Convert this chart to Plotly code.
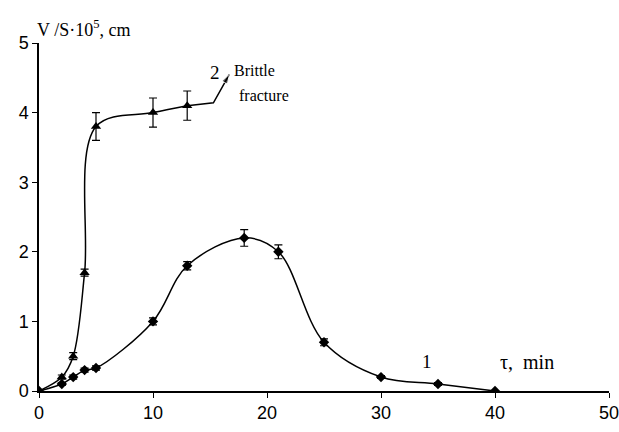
import plotly.graph_objects as go

# Curve 1
t1 = [0, 2, 3, 4, 5, 10, 13, 18, 21, 25, 30, 35, 40]
v1 = [0, 0.1, 0.2, 0.3, 0.33, 1.0, 1.8, 2.2, 2.0, 0.7, 0.2, 0.1, 0]
e1 = [0, 0.02, 0.03, 0.03, 0.03, 0.05, 0.06, 0.12, 0.1, 0.05, 0.02, 0.02, 0]

# Curve 2
t2 = [0, 2, 3, 4, 5, 10, 13]
v2 = [0, 0.2, 0.5, 1.7, 3.8, 4.0, 4.1]
e2 = [0, 0.03, 0.05, 0.05, 0.2, 0.21, 0.21]

# Extension of curve 2 and arrow to "Brittle fracture"
ext_t = [13, 15.3, 16.7]
ext_v = [4.1, 4.14, 4.55]

x_ticks = [0, 10, 20, 30, 40, 50]
y_ticks = [0, 1, 2, 3, 4, 5]

fig = go.Figure()

fig.add_trace(go.Scatter(
    x=t1, y=v1, mode="lines+markers",
    line=dict(color="black", width=1.5, shape="spline", smoothing=1.0),
    marker=dict(symbol="diamond", size=8, color="black"),
    error_y=dict(type="data", array=e1, color="black", thickness=1.2, width=4),
    showlegend=False,
))
fig.add_trace(go.Scatter(
    x=t2, y=v2, mode="lines+markers",
    line=dict(color="black", width=1.5, shape="spline", smoothing=1.0),
    marker=dict(symbol="triangle-up", size=9, color="black"),
    error_y=dict(type="data", array=e2, color="black", thickness=1.2, width=4),
    showlegend=False,
))
fig.add_trace(go.Scatter(
    x=ext_t, y=ext_v, mode="lines+markers",
    line=dict(color="black", width=1.5),
    marker=dict(symbol="arrow", size=[0, 0, 10], angleref="previous", color="black",
                standoff=0),
    showlegend=False,
))

serif = "Liberation Serif, Times New Roman, serif"
fig.add_annotation(x=15.4, y=4.58, xref="x", yref="y", text="2", showarrow=False,
                   font=dict(family=serif, size=19, color="black"))
fig.add_annotation(x=16.9, y=4.61, xref="x", yref="y", xanchor="left", yanchor="middle",
                   text="Brittle", showarrow=False,
                   font=dict(family=serif, size=16, color="black"))
fig.add_annotation(x=17.4, y=4.25, xref="x", yref="y", xanchor="left", yanchor="middle",
                   text="fracture", showarrow=False,
                   font=dict(family=serif, size=16, color="black"))
fig.add_annotation(x=34.0, y=0.42, xref="x", yref="y", text="1", showarrow=False,
                   font=dict(family=serif, size=19, color="black"))
fig.add_annotation(x=40.3, y=0.42, xref="x", yref="y", xanchor="left", text="τ,  min",
                   showarrow=False, font=dict(family=serif, size=20, color="black"))
fig.add_annotation(x=-0.007, y=1.043, xref="paper", yref="paper", xanchor="left", yanchor="middle",
                   text="V /S·10<sup>5</sup>, cm", showarrow=False,
                   font=dict(family=serif, size=18, color="black"))

fig.update_layout(
    width=619, height=432,
    margin=dict(l=39, r=10, t=43, b=41),
    paper_bgcolor="white", plot_bgcolor="white",
    font=dict(family="Liberation Sans, Arial, sans-serif", size=18, color="black"),
)
fig.update_xaxes(range=[0, 50], tickvals=x_ticks, ticks="outside", ticklen=5,
                 showline=True, linecolor="black", linewidth=1.5, tickcolor="black",
                 showgrid=False, zeroline=False, mirror=False, automargin=False,
                 ticklabeloverflow="allow")
fig.update_yaxes(range=[0, 5], tickvals=y_ticks, ticks="outside", ticklen=5,
                 showline=True, linecolor="black", linewidth=1.5, tickcolor="black",
                 showgrid=False, zeroline=False, mirror=False, automargin=False,
                 ticklabeloverflow="allow")

fig.write_html("out.html", config={"displayModeBar": False})

with open("out.html", "r", encoding="utf-8") as f:
    html = f.read()
html = html.replace("<head>", "<head><style>html,body{margin:0;padding:0;overflow:hidden}</style>", 1)
with open("out.html", "w", encoding="utf-8") as f:
    f.write(html)
